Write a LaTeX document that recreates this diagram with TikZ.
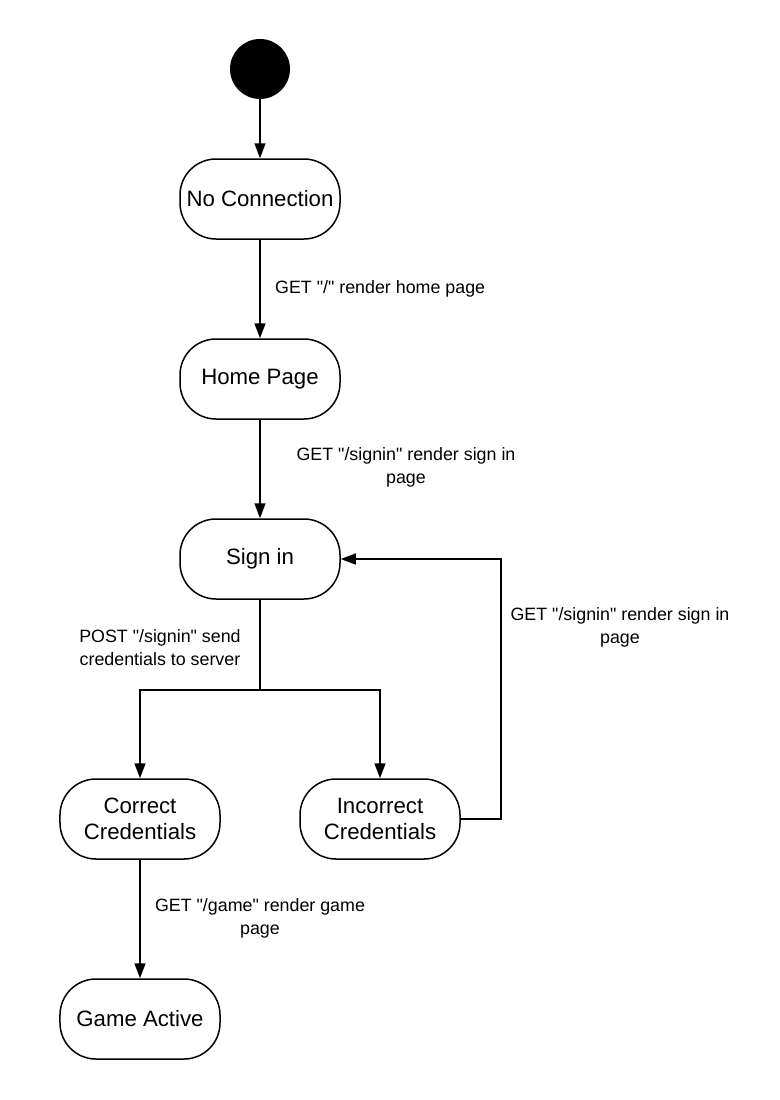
\documentclass[tikz,border=0pt]{standalone}
\usepackage{fontspec}
\setmainfont{Liberation Sans}[Ligatures=TeXOff]
\usetikzlibrary{arrows.meta,positioning,calc}

\tikzset{
    state/.style = {draw, line width=1.5bp, rounded corners=36bp, minimum width=160bp,
                    minimum height=80bp, align=center, inner sep=0pt,
                    font=\fontsize{22.3}{26}\selectfont},
    trans/.style = {line width=1.5bp, -{Triangle[length=15bp,width=11bp]}},
    txt/.style   = {align=center, inner sep=0pt, font=\fontsize{17.9}{23}\selectfont}
}

\begin{document}
\begin{tikzpicture} [x = 1bp, y = -1bp]
            \useasboundingbox (0,0) rectangle (780,1100);
            \node[circle, fill, minimum size=60bp, inner sep=0pt] (start) at (260,69) {};   % inicio
            \node[state] (noconn) at (260,199) {No Connection};
            \node[state] (home)   at (260,379) {Home Page};
            \node[state] (signin) at (260,559) {Sign in};
            \node[state] (correct)   at (140,819) {Correct\\Credentials};
            \node[state] (incorrect) at (380,819) {Incorrect\\Credentials};
            \node[state] (game)   at (140,1019) {Game Active};
            \coordinate (split) at (260,690);
            \coordinate (back)  at ($(incorrect.east)+(40,0)$);

            \draw[trans] (start) -- (noconn);
            \draw[trans] (noconn) -- (home);
            \draw[trans] (home) -- (signin);
            \draw[line width=1.5bp] (signin) -- (split);
            \draw[trans] (split) -| (correct);
            \draw[trans] (split) -| (incorrect);
            \draw[trans] (incorrect.east) -- (back) |- (signin.east);
            \draw[trans] (correct) -- (game);

            \node[txt, anchor=west] (l1) at (275,289) {GET "/" render home page};
            \node[txt] (l2) at (406,467) {GET "/signin" render sign in\\page};
            \node[txt] (l3) at (160,648) {POST "/signin" send\\credentials to server};
            \node[txt] (l4) at (620,627) {GET "/signin" render sign in\\page};
            \node[txt] (l5) at (260,918) {GET "/game" render game\\page};
        \end{tikzpicture}
\end{document}
